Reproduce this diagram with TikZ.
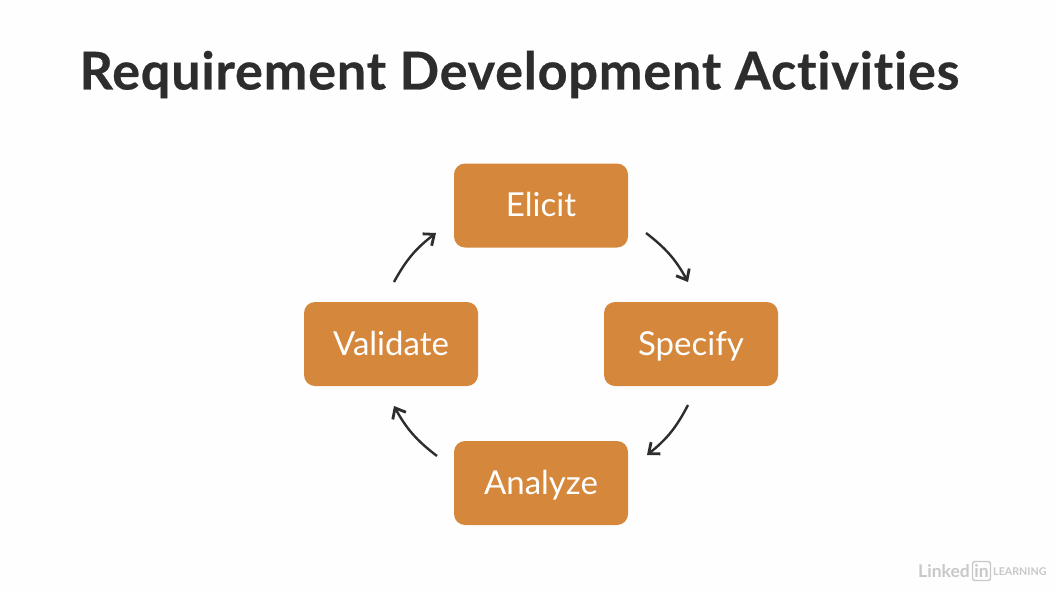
\documentclass[tikz,border=0pt]{standalone}
\usepackage{fontspec}
\setmainfont{Lato}[Ligatures=NoCommon]
\newfontfamily\titlef{Lato}[Ligatures=NoCommon,BoldFeatures={FakeBold=0.5,LetterSpace=1.6}]
\usetikzlibrary{arrows.meta}
\definecolor{boxc}{HTML}{D5873B}
\definecolor{ink}{HTML}{2D2D2D}
\definecolor{bgc}{HTML}{FEFEFE}
\definecolor{wm}{HTML}{C8C8C8}
\tikzset{x=1pt,y=-1pt,
 stepbox/.style={draw=none,fill=boxc,rounded corners=11pt,minimum width=174pt,minimum height=84pt,text=white,font=\fontsize{33}{36}\selectfont,inner sep=0pt,text height=29pt,text depth=7pt},
 flow/.style={draw=ink,line width=2.4pt,-{Straight Barb[length=9pt,width=15pt,line width=2.8pt]}}}
\begin{document}
\begin{tikzpicture}
\useasboundingbox[fill=bgc] (0,0) rectangle (1058,592);
\node[font=\titlef\fontsize{52.1}{60}\selectfont\bfseries,text=ink,anchor=center] (title) at (519.5,74.5) {Requirement Development Activities};
\node[stepbox] (e) at (541,205.5) {Elicit};
\node[stepbox] (s) at (691,344) {Specify};
\node[stepbox] (a) at (541,483) {Analyze};
\node[stepbox] (v) at (391,344) {Validate};
\coordinate (e1) at (646,233); \coordinate (s0) at (688,282);
\coordinate (s1) at (688,405); \coordinate (a0) at (647,455);
\coordinate (a1) at (437,456); \coordinate (v0) at (394,406);
\coordinate (v1) at (394,282); \coordinate (e0) at (436,233);
\draw[flow] (e1) to[bend left=12] (s0);
\draw[flow] (s1) to[bend left=12] (a0);
\draw[flow] (a1) to[bend left=12] (v0);
\draw[flow] (v1) to[bend left=12] (e0);
\node[font=\fontsize{17.5}{22}\selectfont\bfseries,text=wm,anchor=base east,inner sep=0pt] (ln) at (970,577) {Linked};
\node[draw=wm,line width=1.4pt,rounded corners=2.5pt,minimum width=18pt,minimum height=19pt,inner sep=0pt,font=\fontsize{17.5}{20}\selectfont\bfseries,text=wm] (inb) at (981.5,571) {in};
\node[font=\fontsize{10.7}{12}\selectfont\bfseries,text=wm,anchor=base west,inner sep=0pt] (lr) at (993,575) {LEARNING};
\end{tikzpicture}
\end{document}
